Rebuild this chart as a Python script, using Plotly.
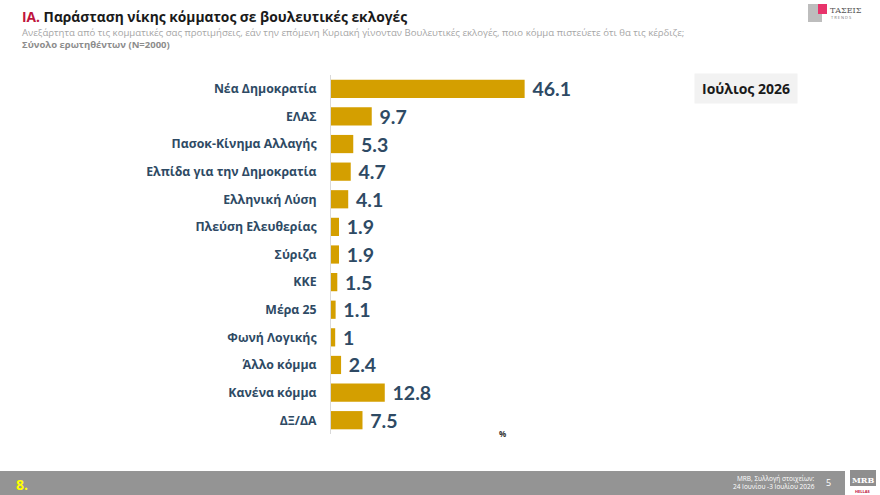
import plotly.graph_objects as go

categories = ["Νέα Δημοκρατία", "ΕΛΑΣ", "Πασοκ-Κίνημα Αλλαγής", "Ελπίδα για την Δημοκρατία",
              "Ελληνική Λύση", "Πλεύση Ελευθερίας", "Σύριζα", "ΚΚΕ", "Μέρα 25",
              "Φωνή Λογικής", "Άλλο κόμμα", "Κανένα κόμμα", "ΔΞ/ΔΑ"]
values = [46.1, 9.7, 5.3, 4.7, 4.1, 1.9, 1.9, 1.5, 1.1, 1, 2.4, 12.8, 7.5]
value_labels = ["46.1", "9.7", "5.3", "4.7", "4.1", "1.9", "1.9", "1.5", "1.1", "1", "2.4", "12.8", "7.5"]

W, H = 880, 495
ML, MR, MT, MB = 331, 0, 75, 61
PW, PH = W - ML - MR, H - MT - MB
FONT = "Open Sans"
BAR = "#D49F00"
LABEL = "#2E4A64"


def px(x):
    return (x - ML) / PW


def py(y):
    return (H - MB - y) / PH


fig = go.Figure()
fig.add_trace(go.Bar(
    y=categories, x=values, orientation="h",
    marker=dict(color=BAR, line=dict(width=0)),
    width=0.66,
    text=[" " + t for t in value_labels], textposition="outside", cliponaxis=False,
    constraintext="none",
    textfont=dict(family="Lato", size=19.5, color=LABEL, weight="bold"),
    hoverinfo="skip",
))

fig.update_layout(
    width=W, height=H,
    margin=dict(l=ML, r=MR, t=MT, b=MB),
    paper_bgcolor="white", plot_bgcolor="white",
    showlegend=False,
    xaxis=dict(range=[0, 130.7], visible=False, fixedrange=True),
    yaxis=dict(autorange=False, range=[12.5, -0.5], showline=True, linecolor="#D9D9D9",
               linewidth=1, ticks="", showgrid=False, zeroline=False,
               ticklabelstandoff=11,
               tickfont=dict(family=FONT, size=12.3, color=LABEL, weight="bold")),
    font=dict(family=FONT),
)

ann = [
    dict(x=20, y=16, xanchor="left",
         text="<span style='color:#C0143C'>ΙΑ.</span> Παράσταση νίκης κόμματος σε βουλευτικές εκλογές",
         font=dict(family=FONT, size=13.8, color="#1A1A1A", weight="bold")),
    dict(x=20, y=32, xanchor="left",
         text="Ανεξάρτητα από τις κομματικές σας προτιμήσεις, εάν την επόμενη Κυριακή γίνονταν Βουλευτικές εκλογές, ποιο κόμμα πιστεύετε ότι θα τις κέρδιζε;",
         font=dict(family=FONT, size=9.6, color="#A6A6A6")),
    dict(x=20, y=45, xanchor="left",
         text="Σύνολο ερωτηθέντων (Ν=2000)",
         font=dict(family=FONT, size=9.5, color="#8C8C8C", weight="bold")),
    dict(x=746, y=89, xanchor="center",
         text="Ιούλιος 2026", bgcolor="#F2F2F2", borderpad=5, width=92,
         font=dict(family=FONT, size=14, color="#1A1A1A", weight="bold")),
    dict(x=502, y=433, xanchor="center",
         text="%", font=dict(family=FONT, size=8, color="#333333", weight="bold")),
    dict(x=14, y=484, xanchor="left",
         text="8.", font=dict(family=FONT, size=14, color="#FFFF00", weight="bold")),
    dict(x=817, y=478, xanchor="right",
         text="MRB, Συλλογή στοιχείων:", font=dict(family=FONT, size=6.5, color="white")),
    dict(x=817, y=486, xanchor="right",
         text="24 Ιουνίου -3 Ιουλίου 2026", font=dict(family=FONT, size=6.5, color="white")),
    dict(x=828, y=482, xanchor="center",
         text="5", font=dict(family=FONT, size=9, color="white")),
    dict(x=863, y=480, xanchor="center",
         text="MRB", font=dict(family="DejaVu Serif", size=8, color="white", weight="bold")),
    dict(x=863, y=491, xanchor="center",
         text="HELLAS", font=dict(family=FONT, size=4, color="#C0143C", weight="bold")),
    dict(x=828, y=10, xanchor="left",
         text="ΤΑΣΕΙΣ", font=dict(family="DejaVu Serif", size=8, color="#555555")),
    dict(x=829, y=18, xanchor="left",
         text="T R E N D S", font=dict(family=FONT, size=4, color="#777777")),
]
for a in ann:
    a["x"] = px(a["x"])
    a["y"] = py(a["y"])
    a.update(xref="paper", yref="paper", showarrow=False, yanchor="middle")
    fig.add_annotation(**a)


def rect(x0, y0, x1, y1, color):
    fig.add_shape(type="rect", xref="paper", yref="paper",
                  x0=px(x0), x1=px(x1), y0=py(y1), y1=py(y0),
                  fillcolor=color, line=dict(width=0), layer="below")


rect(0, 471, 845, 495, "#949494")
rect(850, 470, 876, 486, "#8E8E8E")
rect(808, 4, 822, 22, "#BDBDBD")
rect(818, 4, 827, 14, "#E8336B")

fig.write_html("out.html")
